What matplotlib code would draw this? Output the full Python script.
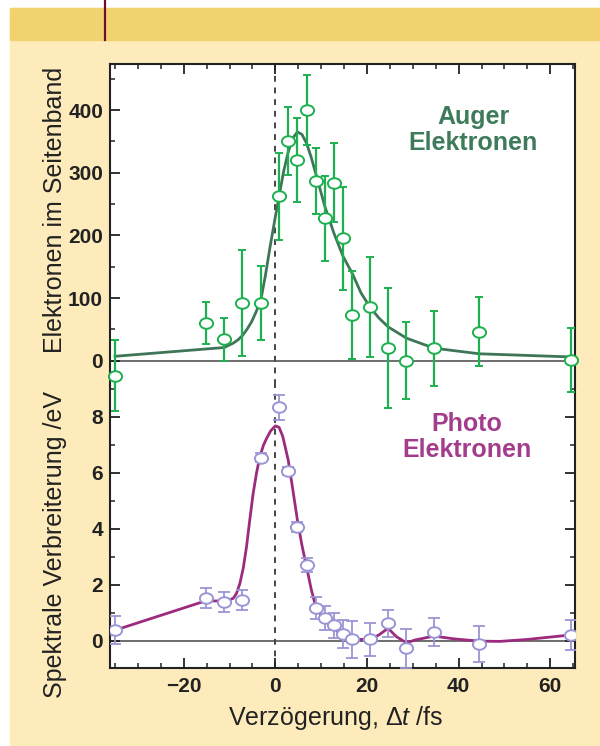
import matplotlib.pyplot as plt
import numpy as np
from matplotlib.path import Path
from matplotlib.patches import Rectangle
from matplotlib.lines import Line2D

plt.rcParams['font.family'] = ['Liberation Sans', 'DejaVu Sans']
plt.rcParams['mathtext.fontset'] = 'custom'
plt.rcParams['mathtext.it'] = 'Liberation Sans:italic'
plt.rcParams['mathtext.rm'] = 'Liberation Sans'

# delay times of the measurements (fs), same for both panels
delay = [-35.0, -15.2, -11.2, -7.2, -3.2, 0.8, 2.8, 4.8, 6.8, 8.8,
         10.8, 12.8, 14.8, 16.8, 20.6, 24.6, 28.6, 34.6, 44.5, 64.5]

# Auger electrons in sideband
auger = [-24, 60, 34, 92, 92, 262, 351, 320, 400, 287,
         227, 284, 195, 73, 86, 20, 0, 20, 46, 1]
auger_err = [57, 34, 34, 84, 59, 70, 54, 67, 56, 53,
             68, 63, 82, 70, 80, 96, 61, 60, 55, 51]

auger_fit_t = [-35.0, -11.2, -9.2, -8.2, -7.2, -6.2, -5.2, -4.2, -3.2, -2.2,
               -1.2, 0.0, 0.8, 1.8, 2.8, 3.8, 4.8, 5.8, 6.8, 7.8,
               8.8, 10.8, 12.8, 14.8, 16.8, 18.7, 20.6, 22.6, 24.6, 28.6,
               34.6, 44.5, 64.5]
auger_fit = [7, 21, 28, 33, 40, 50, 62, 78, 96, 135,
             180, 230, 262, 302, 333, 355, 365, 361, 347, 325,
             299, 246, 203, 166, 139, 108, 86, 68, 54, 36,
             20, 11, 6]

# photo electrons, spectral broadening (eV)
photo = [0.37, 1.51, 1.37, 1.45, 6.53, 8.33, 6.06, 4.07, 2.70, 1.17,
         0.81, 0.55, 0.23, 0.04, 0.04, 0.61, -0.28, 0.31, -0.13, 0.20]
photo_err = [0.49, 0.35, 0.36, 0.35, 0.16, 0.44, 0.15, 0.18, 0.24, 0.39,
             0.43, 0.45, 0.50, 0.66, 0.60, 0.47, 0.69, 0.51, 0.64, 0.54]

photo_fit_t = [-35.0, -15.2, -11.2, -10.2, -9.2, -8.5, -7.75, -7.0, -6.3, -5.6,
               -4.85, -4.1, -3.4, -2.6, -1.9, -1.0, 0.0, 0.8, 1.6, 2.8,
               3.8, 4.8, 5.8, 6.8, 7.8, 8.8, 9.8, 10.8, 12.8, 14.7,
               16.8, 20.6, 22.6, 24.6, 26.4, 28.6, 30.5, 34.6, 39.0, 44.5,
               49.0, 55.0, 64.5]
photo_fit = [0.37, 1.42, 1.41, 1.44, 1.51, 1.68, 2.04, 2.6, 3.35, 4.3,
             5.26, 6.0, 6.57, 6.98, 7.23, 7.5, 7.67, 7.62, 7.3, 6.45,
             5.4, 4.31, 3.4, 2.64, 1.85, 1.21, 0.95, 0.76, 0.44, 0.14,
             0.04, 0.04, 0.2, 0.44, 0.14, -0.08, 0.02, 0.16, 0.06, -0.02,
             -0.03, 0.04, 0.2]

W, H = 600, 746


def fx(x):
    return x / W


def fy(y):
    return 1 - y / H


def ellipse_marker():
    circ = Path.unit_circle()
    v = circ.vertices * np.array([1.25, 1.0])
    return Path(v, circ.codes)


fig = plt.figure(figsize=(6, 7.46), dpi=100, facecolor='white')

# page background
fig.patches.append(Rectangle((fx(10), 0), 1, fy(8), transform=fig.transFigure,
                             color='#fdebbb', zorder=-10))
fig.patches.append(Rectangle((fx(10), fy(40)), 1, 32 / H, transform=fig.transFigure,
                             color='#f1d26e', zorder=-9))
fig.lines.append(Line2D([fx(105), fx(105)], [fy(40), 1], transform=fig.transFigure,
                        color='#6b0d34', lw=1.6))

split = 385
ax_top = fig.add_axes([fx(110), fy(split), fx(465), (split - 64) / H])
ax_bot = fig.add_axes([fx(110), fy(667.7), fx(465), (667.7 - split) / H])
ax_top.set_zorder(ax_bot.get_zorder() + 1)

xlim = (-36.1, 65.4)
mk = ellipse_marker()

# ---- top panel: Auger
ax_top.set_xlim(xlim)
ax_top.set_ylim(-38.8, 473.4)
ax_top.axhline(0, color='#555555', lw=1.2, zorder=1)
ax_top.axvline(0, color='#444444', lw=1.4, ls=(0, (3, 3)), zorder=1)
ax_top.plot(auger_fit_t, auger_fit, color='#3f7657', lw=2.0, zorder=2,
            solid_joinstyle='round')
eb = ax_top.errorbar(delay, auger, yerr=auger_err, fmt='none', ecolor='#1db050',
                     elinewidth=1.6, capsize=2.8, capthick=1.4, zorder=3)
for a in list(eb.lines[1]) + list(eb.lines[2]):
    a.set_clip_on(False)
pts = ax_top.plot(delay, auger, ls='none', marker=mk, ms=9.5, mfc='white',
                  mec='#1db050', mew=1.4, zorder=4)
for p in pts:
    p.set_clip_on(False)

ax_top.spines['bottom'].set_visible(False)
for s in ax_top.spines.values():
    s.set_linewidth(1.5)
    s.set_color('#222222')
ax_top.set_yticks([0, 100, 200, 300, 400])
ax_top.set_yticks(np.arange(50, 500, 50), minor=True)
ax_top.set_xticks([-20, 0, 20, 40, 60])
ax_top.set_xticks(np.arange(-35, 66, 5), minor=True)
ax_top.tick_params(axis='both', which='both', direction='in', colors='#222222',
                   labelsize=15)
ax_top.tick_params(axis='x', which='both', bottom=False, top=True, labelbottom=False)
ax_top.tick_params(axis='y', which='both', left=True, right=False)
ax_top.tick_params(which='major', length=7, width=1.3)
ax_top.tick_params(which='minor', length=3.5, width=1.1)
ax_top.tick_params(axis='y', pad=5)
for lab in ax_top.get_yticklabels():
    lab.set_fontweight('bold')

# ---- bottom panel: photo electrons
ax_bot.set_xlim(xlim)
ax_bot.set_ylim(-0.97, (640.5 - split) / 27.98)
ax_bot.axhline(0, color='#555555', lw=1.2, zorder=1)
ax_bot.axvline(0, color='#444444', lw=1.4, ls=(0, (3, 3)), zorder=1)
ax_bot.plot(photo_fit_t, photo_fit, color='#9c2b7f', lw=2.0, zorder=2,
            solid_joinstyle='round')
ax_bot.errorbar(delay, photo, yerr=photo_err, fmt='none', ecolor='#9a96d6',
                elinewidth=1.3, capsize=4.5, capthick=1.3, zorder=3)
ax_bot.plot(delay, photo, ls='none', marker=mk, ms=9.5, mfc='white',
            mec='#9a96d6', mew=1.4, zorder=4)

ax_bot.spines['top'].set_visible(False)
for s in ax_bot.spines.values():
    s.set_linewidth(1.5)
    s.set_color('#222222')
ax_bot.set_yticks([0, 2, 4, 6, 8])
ax_bot.set_yticks([1, 3, 5, 7, 9], minor=True)
ax_bot.set_xticks([-20, 0, 20, 40, 60])
ax_bot.set_xticks(np.arange(-35, 66, 5), minor=True)
ax_bot.tick_params(axis='both', which='both', direction='in', colors='#222222',
                   labelsize=15, top=False, right=True)
ax_bot.tick_params(which='major', length=7, width=1.3)
ax_bot.tick_params(which='minor', length=3.5, width=1.1)
ax_bot.tick_params(axis='y', pad=5)
ax_bot.tick_params(axis='x', pad=7)
for lab in ax_bot.get_yticklabels() + ax_bot.get_xticklabels():
    lab.set_fontweight('bold')

# labels
fig.text(fx(55), fy(210), 'Elektronen im Seitenband', rotation=90, fontsize=18,
         ha='center', va='center', color='#222222')
fig.text(fx(55), fy(544), 'Spektrale Verbreiterung /eV', rotation=90, fontsize=18,
         ha='center', va='center', color='#222222')
fig.text(fx(336), fy(718), 'Verzögerung, Δ$\\mathit{t}$ /fs', fontsize=18,
         ha='center', va='center', color='#222222')

fig.text(fx(473), fy(130), 'Auger\nElektronen', fontsize=18, fontweight='bold',
         ha='center', va='center', color='#3d7b5a', linespacing=1.1)
fig.text(fx(467), fy(437), 'Photo\nElektronen', fontsize=18, fontweight='bold',
         ha='center', va='center', color='#a43c8c', linespacing=1.1)

fig.savefig('out.png', dpi=100, facecolor=fig.get_facecolor())
